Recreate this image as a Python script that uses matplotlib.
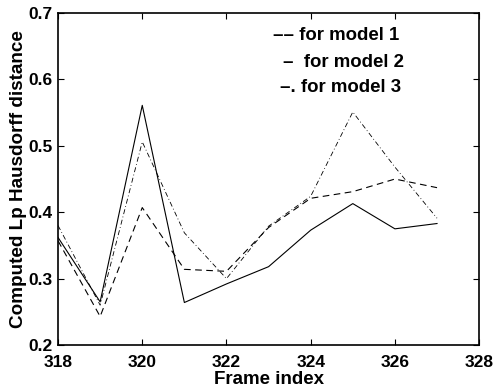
import numpy as np
import matplotlib
matplotlib.use('Agg')
import matplotlib.pyplot as plt

plt.rcParams['font.family'] = ['Liberation Sans', 'DejaVu Sans']
plt.rcParams['font.weight'] = 'bold'

# данные
frames = [318, 319, 320, 321, 322, 323, 324, 325, 326, 327]
model_solid = [0.362, 0.265, 0.561, 0.264, 0.292, 0.318, 0.373, 0.413, 0.375, 0.383]
model_dashed = [0.357, 0.243, 0.407, 0.314, 0.311, 0.377, 0.421, 0.431, 0.450, 0.437]
model_dashdot = [0.380, 0.260, 0.506, 0.369, 0.300, 0.379, 0.424, 0.551, 0.468, 0.391]

legend_lines = ['–– for model 1', '–  for model 2', '–. for model 3']

fig = plt.figure(figsize=(4.96, 3.91), dpi=100)
ax = fig.add_axes([0.117, 0.1176, 0.849, 0.849])

ax.plot(frames, model_solid, color='k', linestyle='-', linewidth=0.8)
ax.plot(frames, model_dashed, color='k', linestyle=(0, (6, 4)), linewidth=0.8)
ax.plot(frames, model_dashdot, color='k', linestyle=(0, (6, 3, 1, 3)), linewidth=0.6)

ax.set_xlim(318, 328)
ax.set_ylim(0.2, 0.7)
ax.set_xticks(np.arange(318, 329, 2))
ax.set_yticks(np.arange(0.2, 0.71, 0.1))
ax.set_yticklabels(['0.2', '0.3', '0.4', '0.5', '0.6', '0.7'])
ax.tick_params(direction='in', length=4, width=0.8, top=True, right=True,
               labelsize=12.5)
ax.tick_params(axis='x', pad=7)
ax.tick_params(axis='y', pad=4)
for lab in ax.get_xticklabels() + ax.get_yticklabels():
    lab.set_fontweight('bold')
for sp in ax.spines.values():
    sp.set_linewidth(1.2)

ax.set_xlabel('Frame index', fontsize=13.5, fontweight='bold', labelpad=1)
ax.set_ylabel('Computed Lp Hausdorff distance', fontsize=13.6, fontweight='bold', labelpad=1)

# легенда текстом, как в оригинале
pos = [(0.511, 0.919), (0.534, 0.837), (0.527, 0.762)]
for (x, y), t in zip(pos, legend_lines):
    ax.text(x, y, t, transform=ax.transAxes, fontsize=13.4, fontweight='bold',
            ha='left', va='baseline')

plt.savefig('out.png', dpi=100)
